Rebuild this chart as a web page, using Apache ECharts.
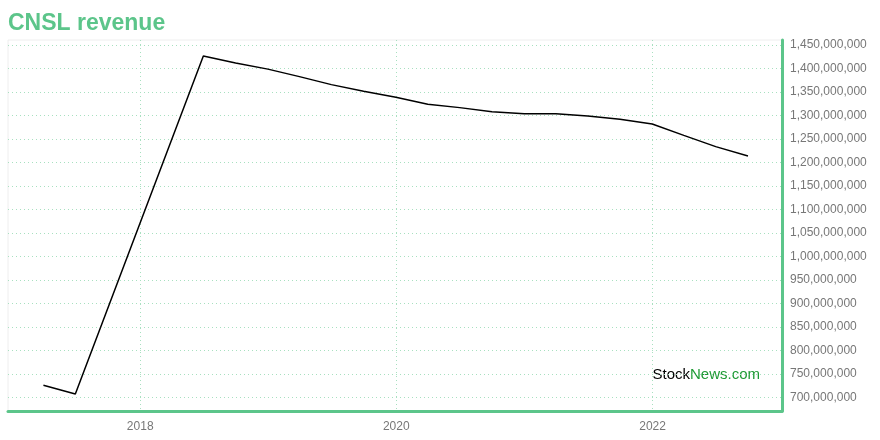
<!DOCTYPE html>
<html>
<head>
<meta charset="utf-8">
<script src="https://cdn.jsdelivr.net/npm/echarts@6/dist/echarts.min.js"></script>
<style>html,body{margin:0;padding:0;background:#fff}#c{width:880px;height:440px}</style>
</head>
<body>
<div id="c"></div>
<script>
const dates = ['2017-03-31','2017-06-30','2018-06-30','2018-09-30','2018-12-31','2019-03-31','2019-06-30','2019-09-30','2019-12-31','2020-03-31','2020-06-30','2020-09-30','2020-12-31','2021-03-31','2021-06-30','2021-09-30','2021-12-31','2022-03-31','2022-06-30','2022-09-30'];
const revenue = [726e6,707e6,1427e6,1412e6,1399e6,1383e6,1366e6,1352e6,1339e6,1324e6,1317e6,1308e6,1304e6,1304e6,1299e6,1292e6,1282e6,1258e6,1234e6,1214e6];
const yTicks = [700e6,750e6,800e6,850e6,900e6,950e6,1000e6,1050e6,1100e6,1150e6,1200e6,1250e6,1300e6,1350e6,1400e6,1450e6];
const xTickYears = ['2018-01-01','2020-01-01','2022-01-01'];
const titleText = 'CNSL revenue';

const green = '#5cc58a';
const ts = d => Date.parse(d + 'T00:00:00Z');
const chart = echarts.init(document.getElementById('c'));
const xTickVals = xTickYears.map(ts);
chart.setOption({
  animation: false,
  title: { text: titleText, left: 8, top: 12, padding: 0, textStyle: { color: green, fontSize: 23, fontWeight: 'bold', fontFamily: 'Liberation Sans, Arial, sans-serif' } },
  grid: { left: 8, right: 98, top: 40, bottom: 29, show: true, borderColor: '#eeeeee', borderWidth: 1 },
  xAxis: {
    type: 'value',
    min: ts('2016-12-20'),
    max: ts('2023-01-05'),
    axisLine: { show: true, lineStyle: { color: green, width: 3 } },
    axisTick: { show: false, customValues: xTickVals },
    axisLabel: { customValues: xTickVals, formatter: v => String(new Date(v).getUTCFullYear()), color: '#777', fontSize: 12, margin: 10, fontFamily: 'Liberation Sans, Arial, sans-serif' },
    splitLine: { show: true, lineStyle: { color: '#a8e0c0', type: [1, 3], width: 1 } }
  },
  yAxis: {
    type: 'value',
    position: 'right',
    min: 671e6,
    max: 1461e6,
    axisLine: { show: true, lineStyle: { color: green, width: 3 } },
    axisTick: { show: false, customValues: yTicks },
    axisLabel: { customValues: yTicks, formatter: v => v.toLocaleString('en-US'), color: '#777', fontSize: 12, margin: 8, fontFamily: 'Liberation Sans, Arial, sans-serif' },
    splitLine: { show: true, lineStyle: { color: '#a8e0c0', type: [1, 3], width: 1 } }
  },
  graphic: [{
    type: 'text', right: 120, top: 367,
    style: { rich: { a: { fill: '#000', fontSize: 15, fontFamily: 'Liberation Sans, Arial, sans-serif' }, b: { fill: '#1e9a34', fontSize: 15, fontFamily: 'Liberation Sans, Arial, sans-serif' } }, text: '{a|Stock}{b|News.com}' }
  }],
  series: [{
    type: 'line',
    data: dates.map((d, i) => [ts(d), revenue[i]]),
    showSymbol: false,
    lineStyle: { color: '#000', width: 1.5 },
    itemStyle: { color: '#000' }
  }]
});
</script>
</body>
</html>
